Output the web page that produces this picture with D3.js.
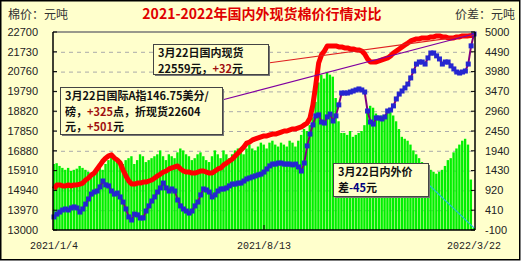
<!DOCTYPE html>
<html><head><meta charset="utf-8">
<script src="https://cdn.jsdelivr.net/npm/d3@7/dist/d3.min.js"></script>
<style>body{margin:0;background:#fff}svg{display:block}</style>
</head><body><svg id="c" width="525" height="263"></svg>
<script>
// 国内现货 (元/吨)
const domestic = [15010,15210,15210,15160,15160,15210,15160,15210,15210,15250,
15300,15450,15550,15700,15790,15990,16180,16380,16530,16630,
16680,16530,16430,16280,15940,15650,15400,15250,15250,15300,
15300,15350,15350,15400,15450,15550,15650,15740,15840,15890,
15990,16040,16090,16140,15990,15890,15840,15840,15790,15790,
15840,15890,15890,15840,15790,15790,15890,15990,16040,16190,
16280,16380,16480,16630,16770,16920,17070,17260,17310,17410,
17460,17510,17560,17610,17610,17660,17700,17700,17750,17800,
17850,17850,17900,17950,17950,18000,18050,18150,18240,18490,
19130,20110,21180,21580,21770,22020,22020,22020,22020,21970,
21970,21920,21920,21870,21870,21820,21820,21770,21620,21380,
21230,21230,21230,21280,21330,21380,21430,21530,21670,21770,
21870,21970,22070,22160,22260,22310,22360,22360,22410,22410,
22410,22460,22460,22510,22510,22460,22460,22410,22410,22410,
22460,22460,22510,22510,22510,22530,22559];
// 国际A指折现货 (元/吨)
const intlSpot = [13640,13780,13880,13980,14030,13980,14080,14130,14080,13880,
14030,14270,14520,14760,14860,14910,15110,15400,15210,15160,
14910,14760,14810,14620,14370,14030,13640,13490,13780,13740,
13590,13590,13930,14180,14420,14620,14860,15060,15300,15060,
14910,15010,14910,14470,14180,14030,13930,13830,13930,14180,
14370,14720,15010,14960,14860,14620,14720,14910,15010,15010,
15060,15160,15250,15250,15300,15300,15400,15500,15550,15600,
15650,15700,15740,15840,15990,16140,16230,16230,16280,16280,
16230,16230,16230,16190,16230,16090,15890,16280,17120,17700,
18150,18590,18640,18290,18240,18540,18680,18340,18590,19130,
19710,19710,19710,19760,19810,19860,19910,19860,19760,18830,
18290,18190,18490,18490,18440,18540,18830,18880,19080,19420,
19660,19810,19960,20150,20450,20790,21130,21230,21230,21130,
21430,21670,21670,21530,21380,21130,21230,21230,21040,20890,
20740,20690,20740,20790,21130,22020,22604];
// 内外价差 (元/吨)
const spread = [1600,1620,1550,1500,1450,1500,1420,1450,1480,1550,
1500,1450,1400,1350,1400,1500,1550,1450,1600,1700,
1800,1750,1650,1700,1600,1700,1750,1800,1600,1700,
1850,1800,1650,1700,1750,1800,1850,1950,1800,1700,
1850,1800,1750,1900,2000,1950,1850,1800,1700,1750,
1850,1900,1800,1700,1650,1800,1950,1850,1750,1950,
1850,1750,1850,1950,2000,1900,1850,2000,2100,2000,
1950,2050,2150,2100,2000,2150,2200,2100,2050,2150,
2100,2050,2200,2150,2050,2200,2350,2500,2450,2600,
2800,3200,3700,3900,3800,3950,3900,3850,3300,2700,
2400,2400,2350,2450,2300,2350,2400,2450,2600,3000,
3100,3050,2900,2750,2850,2800,2950,3000,2850,2700,
2500,2300,2250,2200,2100,1950,1850,1750,1650,1600,
1500,1450,1400,1350,1400,1450,1550,1700,1750,1900,
2000,2100,2200,2250,2100,1200,-45];
const xTickLabels = ["2021/1/4","2021/8/13","2022/3/22"];
const xTickIndex = [0,73,146];
const leftTicks = [13000,13970,14940,15910,16880,17850,18820,19790,20760,21730,22700];
const rightTicks = [-100,410,920,1430,1940,2450,2960,3470,3980,4490,5000];

const N = domestic.length;
const L = 53, R = 475, T = 32, B = 230;
const svg = d3.select("#c");
const cjk = "'Noto Sans CJK SC','Noto Sans',sans-serif";

svg.append("rect").attr("x",0.75).attr("y",0.75).attr("width",519).attr("height",259)
  .attr("fill","#FFFFCC").attr("stroke","#000").attr("stroke-width",1.5);

const x = d3.scaleLinear().domain([0, N-1]).range([L+1, R-1]);
const yL = d3.scaleLinear().domain([13000,22700]).range([B,T]);
const yR = d3.scaleLinear().domain([-100,5000]).range([B,T]);
const step = (R-L)/(N-1);

svg.append("defs").append("clipPath").attr("id","clip")
  .append("rect").attr("x",L).attr("y",T).attr("width",R-L).attr("height",B-T);

// gridlines
svg.append("g").selectAll("line").data(leftTicks.slice(1,-1)).join("line")
  .attr("x1",L).attr("x2",R).attr("y1",d=>yL(d)+0.5).attr("y2",d=>yL(d)+0.5)
  .attr("stroke","#aaa").attr("stroke-dasharray","4,4");

// bars
svg.append("g").attr("clip-path","url(#clip)").selectAll("rect").data(spread).join("rect")
  .attr("x",(d,i)=>x(i)-step/2).attr("width",step*0.82)
  .attr("y",d=>yR(d)).attr("height",d=>B-yR(d))
  .attr("fill","#00F000");

// domestic line
svg.append("path").datum(domestic)
  .attr("d", d3.line().x((d,i)=>x(i)).y(d=>yL(d)))
  .attr("fill","none").attr("stroke","#FF0000").attr("stroke-width",5).attr("stroke-linejoin","round");

// international line
svg.append("path").datum(intlSpot)
  .attr("d", d3.line().x((d,i)=>x(i)).y(d=>yL(d)))
  .attr("fill","none").attr("stroke","#800080").attr("stroke-width",2);
svg.append("g").selectAll("rect").data(intlSpot).join("rect")
  .attr("x",(d,i)=>x(i)-2.5).attr("y",d=>yL(d)-2.5).attr("width",5).attr("height",5)
  .attr("fill","#2626D0");

// frame
svg.append("line").attr("x1",L).attr("x2",R).attr("y1",T).attr("y2",T).attr("stroke","#777").attr("stroke-width",1.5);
svg.append("line").attr("x1",L).attr("x2",R).attr("y1",B).attr("y2",B).attr("stroke","#000").attr("stroke-width",1.5);
svg.append("line").attr("x1",L).attr("x2",L).attr("y1",T).attr("y2",B).attr("stroke","#000").attr("stroke-width",1.5);
svg.append("line").attr("x1",R).attr("x2",R).attr("y1",T).attr("y2",B).attr("stroke","#000").attr("stroke-width",1.5);

// axes ticks
svg.append("g").selectAll("line").data(leftTicks).join("line")
  .attr("x1",L).attr("x2",L+4).attr("y1",d=>yL(d)).attr("y2",d=>yL(d)).attr("stroke","#000");
svg.append("g").selectAll("line").data(rightTicks).join("line")
  .attr("x1",R-4).attr("x2",R).attr("y1",d=>yR(d)).attr("y2",d=>yR(d)).attr("stroke","#000");
svg.append("g").selectAll("line").data(xTickIndex.slice(1,-1)).join("line")
  .attr("x1",d=>x(d)).attr("x2",d=>x(d)).attr("y1",B-5).attr("y2",B).attr("stroke","#000");

svg.append("g").selectAll("text").data(leftTicks).join("text")
  .attr("x",38).attr("y",d=>yL(d)).attr("dy","0.35em").attr("text-anchor","end")
  .attr("font-family","'Liberation Sans',Arial,sans-serif").attr("font-size",11).attr("fill","#222")
  .text(d=>d);
svg.append("g").selectAll("text").data(rightTicks).join("text")
  .attr("x",485).attr("y",d=>yR(d)).attr("dy","0.35em").attr("text-anchor","start")
  .attr("font-family","'Liberation Sans',Arial,sans-serif").attr("font-size",11).attr("fill","#222")
  .text(d=>d);
svg.append("g").selectAll("text").data(xTickIndex).join("text")
  .attr("x",(d)=>x(d)).attr("y",249).attr("text-anchor","middle")
  .attr("font-family","'Liberation Mono',monospace").attr("font-size",10).attr("fill","#222")
  .text((d,i)=>xTickLabels[i]);

// titles
svg.append("text").attr("x",262).attr("y",19).attr("text-anchor","middle")
  .attr("font-family",cjk).attr("font-weight","bold").attr("font-size",14).attr("fill","#E00000")
  .text("2021-2022年国内外现货棉价行情对比");
svg.append("text").attr("x",8).attr("y",19).attr("font-family",cjk).attr("font-size",12).attr("fill","#333").text("棉价：元吨");
svg.append("text").attr("x",515).attr("y",19).attr("text-anchor","end").attr("font-family",cjk).attr("font-size",12).attr("fill","#333").text("价差：元吨");

// leader lines
const last = N-1;
svg.append("line").attr("x1",268).attr("y1",63).attr("x2",x(last)).attr("y2",yL(domestic[last])).attr("stroke","#E02020").attr("stroke-width",1.2);
svg.append("line").attr("x1",222).attr("y1",100).attr("x2",x(last)).attr("y2",yL(intlSpot[last])).attr("stroke","#8000A0").attr("stroke-width",1.2);
svg.append("line").attr("x1",428).attr("y1",184).attr("x2",x(last)).attr("y2",yR(spread[last])).attr("stroke","#20C0D0").attr("stroke-width",1.2);

// annotation boxes
function box(x0,y0,w,h,lines){
  svg.append("rect").attr("x",x0+2).attr("y",y0+2).attr("width",w).attr("height",h).attr("fill","#777");
  svg.append("rect").attr("x",x0+0.5).attr("y",y0+0.5).attr("width",w).attr("height",h)
    .attr("fill","#FFFFCC").attr("stroke","#444").attr("stroke-width",1);
  lines.forEach((ln,k)=>{
    const t = svg.append("text").attr("x",x0+5).attr("y",y0+13+k*15.5)
      .attr("font-family",cjk).attr("font-weight","bold").attr("font-size",11).attr("fill","#111");
    ln.forEach(seg=>t.append("tspan").attr("fill",seg[1]||"#111").text(seg[0]));
  });
}
box(153,44,115,30,[[["3月22日国内现货"]],[["22559元，"],["+32","#A01010"],["元"]]]);
box(60,87,162,47,[[["3月22日国际A指146.75美分/"]],[["磅，"],["+325","#A01010"],["点，折现货22604"]],[["元，"],["+501","#A01010"],["元"]]]);
box(333,163,95,33,[[["3月22日内外价"]],[["差"],["-45","#000080"],["元"]]]);
</script></body></html>
